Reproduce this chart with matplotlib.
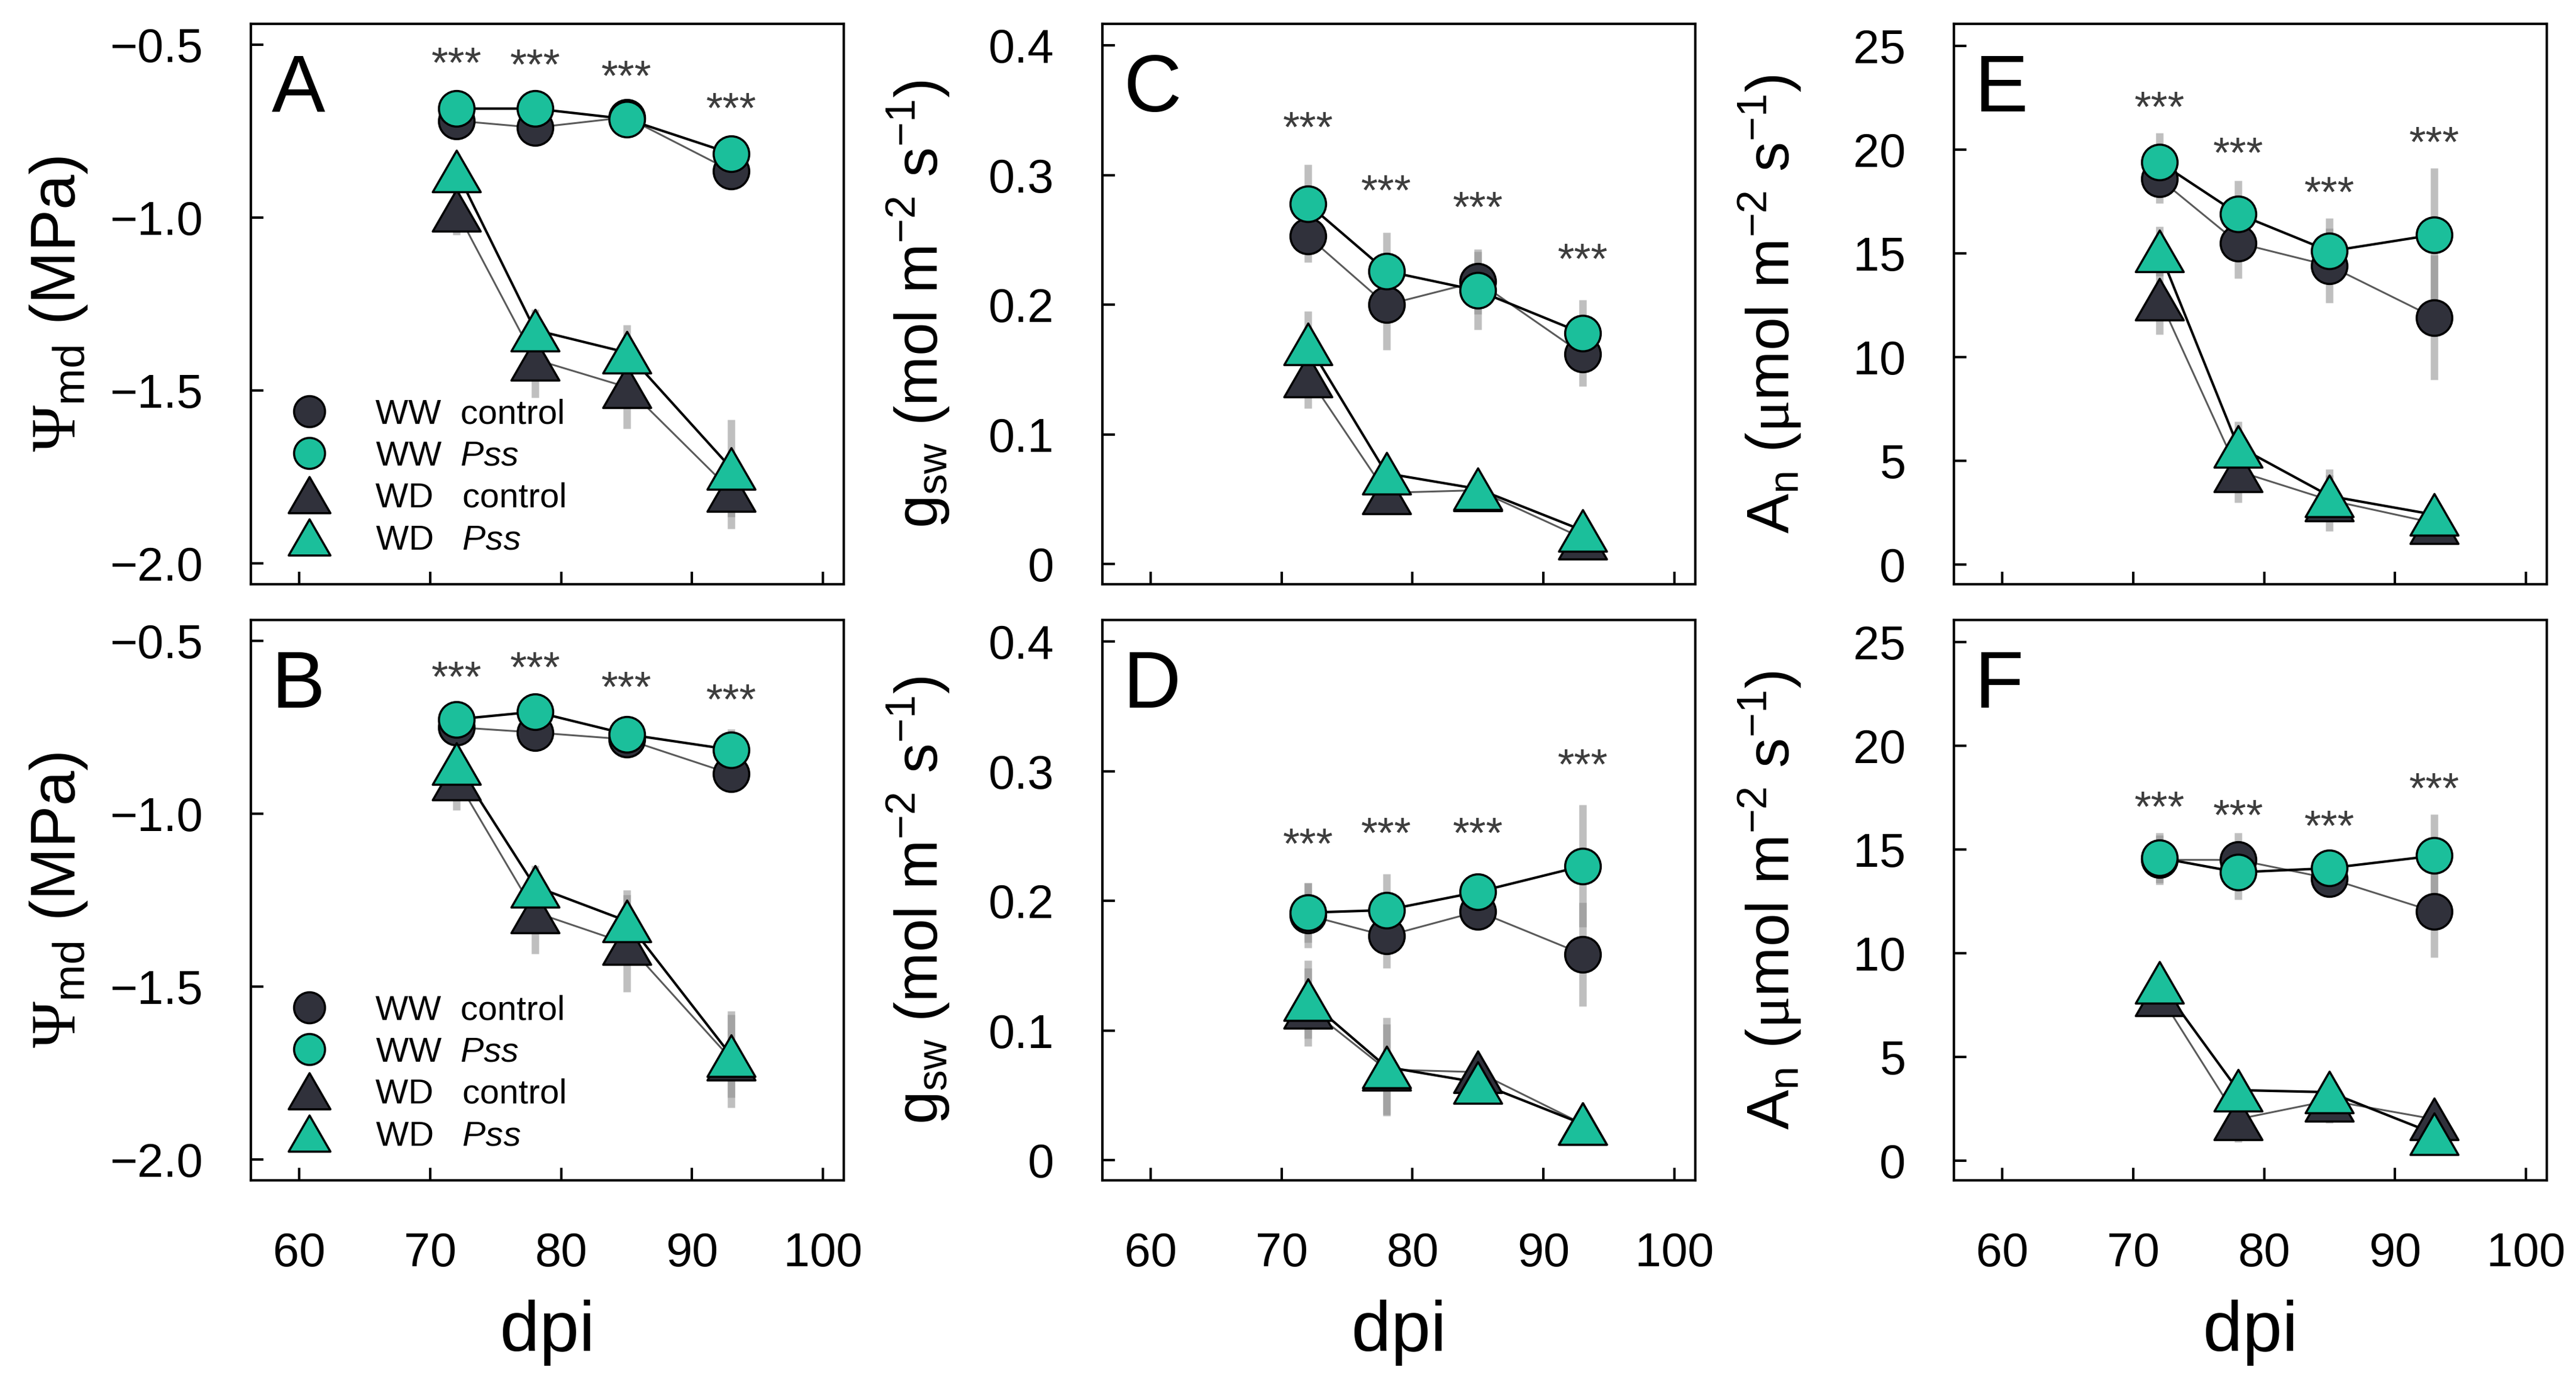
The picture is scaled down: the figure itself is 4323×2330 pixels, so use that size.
import numpy as np
import matplotlib
matplotlib.use('Agg')
import matplotlib.pyplot as plt
from matplotlib.lines import Line2D
from matplotlib.path import Path
from matplotlib.ticker import FuncFormatter

plt.rcParams['font.family'] = ['Liberation Sans', 'DejaVu Sans']
plt.rcParams['mathtext.fontset'] = 'custom'
plt.rcParams['mathtext.rm'] = 'Liberation Sans'
plt.rcParams['mathtext.it'] = 'Liberation Sans:italic'
plt.rcParams['mathtext.bf'] = 'Liberation Sans:bold'
plt.rcParams['mathtext.sf'] = 'Liberation Serif'

# days post inoculation
days = [72, 78, 85, 93]

# panel A: midday water potential, first experiment
psi1_ww_ctrl = [-0.72, -0.74, -0.71, -0.865]
psi1_ww_pss = [-0.685, -0.685, -0.715, -0.815]
psi1_wd_ctrl = [-0.98, -1.41, -1.49, -1.79]
psi1_wd_pss = [-0.865, -1.325, -1.39, -1.725]
psi1_err = [[0.03, 0.03, 0.03, 0.04], [0.03, 0.03, 0.03, 0.04],
            [0.07, 0.11, 0.12, 0.11], [0.05, 0.06, 0.08, 0.14]]
psi1_stars = [-0.55, -0.555, -0.587, -0.68]

# panel B: midday water potential, second experiment
psi2_ww_ctrl = [-0.75, -0.765, -0.785, -0.885]
psi2_ww_pss = [-0.727, -0.705, -0.77, -0.815]
psi2_wd_ctrl = [-0.90, -1.285, -1.375, -1.71]
psi2_wd_pss = [-0.855, -1.21, -1.31, -1.70]
psi2_err = [[0.03, 0.03, 0.03, 0.04], [0.03, 0.03, 0.03, 0.06],
            [0.09, 0.12, 0.14, 0.14], [0.05, 0.06, 0.09, 0.12]]
psi2_stars = [-0.602, -0.573, -0.631, -0.667]

# panel C: stomatal conductance, first experiment
gsw1_ww_ctrl = [0.253, 0.200, 0.218, 0.162]
gsw1_ww_pss = [0.278, 0.226, 0.211, 0.178]
gsw1_wd_ctrl = [0.145, 0.055, 0.057, 0.020]
gsw1_wd_pss = [0.170, 0.070, 0.058, 0.026]
gsw1_err = [[0.02, 0.035, 0.025, 0.025], [0.03, 0.03, 0.03, 0.026],
            [0.025, 0.01, 0.01, 0.005], [0.025, 0.01, 0.01, 0.005]]
gsw1_stars = [0.338, 0.289, 0.276, 0.236]

# panel D: stomatal conductance, second experiment
gsw2_ww_ctrl = [0.189, 0.173, 0.192, 0.159]
gsw2_ww_pss = [0.191, 0.193, 0.207, 0.227]
gsw2_wd_ctrl = [0.118, 0.070, 0.068, 0.028]
gsw2_wd_pss = [0.124, 0.072, 0.060, 0.028]
gsw2_err = [[0.025, 0.025, 0.01, 0.04], [0.023, 0.028, 0.01, 0.047],
            [0.03, 0.035, 0.01, 0.01], [0.03, 0.038, 0.01, 0.01]]
gsw2_stars = [0.245, 0.253, 0.253, 0.306]

# panel E: net assimilation, first experiment
an1_ww_ctrl = [18.6, 15.5, 14.4, 11.9]
an1_ww_pss = [19.4, 16.9, 15.1, 15.9]
an1_wd_ctrl = [12.8, 4.5, 3.1, 2.0]
an1_wd_pss = [15.1, 5.7, 3.3, 2.4]
an1_err = [[1.2, 1.7, 1.8, 3.0], [1.4, 1.6, 1.6, 3.2],
           [1.7, 1.5, 1.5, 0.5], [1.2, 1.2, 1.0, 0.5]]
an1_stars = [22.1, 19.9, 18.0, 20.4]

# panel F: net assimilation, second experiment
an2_ww_ctrl = [14.5, 14.5, 13.6, 12.0]
an2_ww_pss = [14.6, 13.9, 14.1, 14.7]
an2_wd_ctrl = [8.0, 2.0, 2.9, 2.0]
an2_wd_pss = [8.6, 3.4, 3.3, 1.3]
an2_err = [[1.2, 1.3, 0.5, 2.2], [1.2, 1.3, 0.5, 2.0],
           [1.0, 1.1, 1.1, 0.5], [0.8, 0.8, 0.8, 0.5]]
an2_stars = [17.1, 16.7, 16.2, 18.0]

legend_labels = ['WW  control', r'WW  $\mathit{Pss}$', 'WD   control', r'WD   $\mathit{Pss}$']

DARK = '#30313b'
TEAL = '#1bbf9b'
tri = Path([(-1, -0.866), (1, -0.866), (0, 0.866), (-1, -0.866)], closed=True)
CIRC_MS = 43
TRI_MS = 58

styles = [  # marker, size, face, line colour, line width
    ('o', CIRC_MS, DARK, '#5a5a5a', 2.2),
    ('o', CIRC_MS, TEAL, 'black', 3.0),
    (tri, TRI_MS, DARK, '#5a5a5a', 2.2),
    (tri, TRI_MS, TEAL, 'black', 3.0),
]

fig = plt.figure(figsize=(43.23, 23.30), dpi=100)
lefts = [0.0974, 0.4279, 0.7585]
bottoms = [0.5794, 0.1502]
W, H = 0.2302, 0.4034

panels = [
    ('A', 0, 0, [psi1_ww_ctrl, psi1_ww_pss, psi1_wd_ctrl, psi1_wd_pss], psi1_err, psi1_stars),
    ('B', 0, 1, [psi2_ww_ctrl, psi2_ww_pss, psi2_wd_ctrl, psi2_wd_pss], psi2_err, psi2_stars),
    ('C', 1, 0, [gsw1_ww_ctrl, gsw1_ww_pss, gsw1_wd_ctrl, gsw1_wd_pss], gsw1_err, gsw1_stars),
    ('D', 1, 1, [gsw2_ww_ctrl, gsw2_ww_pss, gsw2_wd_ctrl, gsw2_wd_pss], gsw2_err, gsw2_stars),
    ('E', 2, 0, [an1_ww_ctrl, an1_ww_pss, an1_wd_ctrl, an1_wd_pss], an1_err, an1_stars),
    ('F', 2, 1, [an2_ww_ctrl, an2_ww_pss, an2_wd_ctrl, an2_wd_pss], an2_err, an2_stars),
]

ylims = [(-2.06, -0.44), (-0.0155, 0.4167), (-0.95, 26.06)]
yticks = [[-2.0, -1.5, -1.0, -0.5], [0, 0.1, 0.2, 0.3, 0.4], [0, 5, 10, 15, 20, 25]]
ylabels = [r'$\mathsf{\Psi}_{\mathrm{md}}$ (MPa)',
           r'g$_{\mathrm{sw}}$ (mol m$^{-2}$ s$^{-1}$)',
           r'A$_{\mathrm{n}}$ ($\mathsf{\mu}$mol m$^{-2}$ s$^{-1}$)']
ylabel_sizes = [76, 72, 72]
yfmts = [lambda v, p: f'{v:.1f}'.replace('-', '\u2212'),
         lambda v, p: '0' if abs(v) < 1e-9 else f'{v:.1f}',
         lambda v, p: f'{v:.0f}']
ylabel_x = [-0.272, -0.253, -0.253]

for letter, col, row, series, errs, stars in panels:
    ax = fig.add_axes([lefts[col], bottoms[row], W, H])
    for ys, e in zip(series, errs):
        ax.errorbar(days, ys, yerr=e, fmt='none', ecolor='#8c8c8c', alpha=0.55,
                    elinewidth=9, capsize=0, zorder=1)
    for ys, (m, ms, fc, lc, lw) in zip(series, styles):
        ax.plot(days, ys, color=lc, lw=lw, zorder=2)
    for k, (ys, (m, ms, fc, lc, lw)) in enumerate(zip(series, styles)):
        ax.plot(days, ys, ls='none', marker=m, ms=ms, mfc=fc, mec='black',
                mew=2.6, zorder=3 + k)
    fs_star = 52
    for xd, ys in zip(days, stars):
        ax.annotate('***', xy=(xd, ys), xytext=(0, -0.57 * fs_star + 11),
                    textcoords='offset points', ha='center', va='baseline',
                    fontsize=fs_star, color='#3d3d3d')
    ax.set_xlim(56.3, 101.6)
    ax.set_ylim(*ylims[col])
    ax.set_xticks([60, 70, 80, 90, 100])
    ax.set_yticks(yticks[col])
    ax.yaxis.set_major_formatter(FuncFormatter(yfmts[col]))
    ax.tick_params(direction='in', length=15, width=3, labelsize=57)
    ax.tick_params(axis='y', pad=58)
    ax.tick_params(axis='x', pad=62, labelbottom=(row == 1))
    for sp in ax.spines.values():
        sp.set_linewidth(3)
    ax.set_ylabel(ylabels[col], fontsize=ylabel_sizes[col])
    ax.yaxis.set_label_coords(ylabel_x[col], 0.5)
    if row == 1:
        ax.set_xlabel('dpi', fontsize=86)
        ax.xaxis.set_label_coords(0.5, -0.213)
    ax.text(0.035, 0.844, letter, transform=ax.transAxes, fontsize=97,
            ha='left', va='baseline')
    if col == 0:
        handles = [Line2D([], [], ls='none', marker=m, ms=ms * 0.87, mfc=fc,
                          mec='black', mew=2.6)
                   for (m, ms, fc, lc, lw) in styles]
        ax.legend(handles, legend_labels, loc='lower left',
                  bbox_to_anchor=(0.052, 0.05), borderaxespad=0, borderpad=0,
                  frameon=False, fontsize=42, handlelength=1.6,
                  handletextpad=1.1, labelspacing=0.28)

fig.savefig('out.png', dpi=100)
